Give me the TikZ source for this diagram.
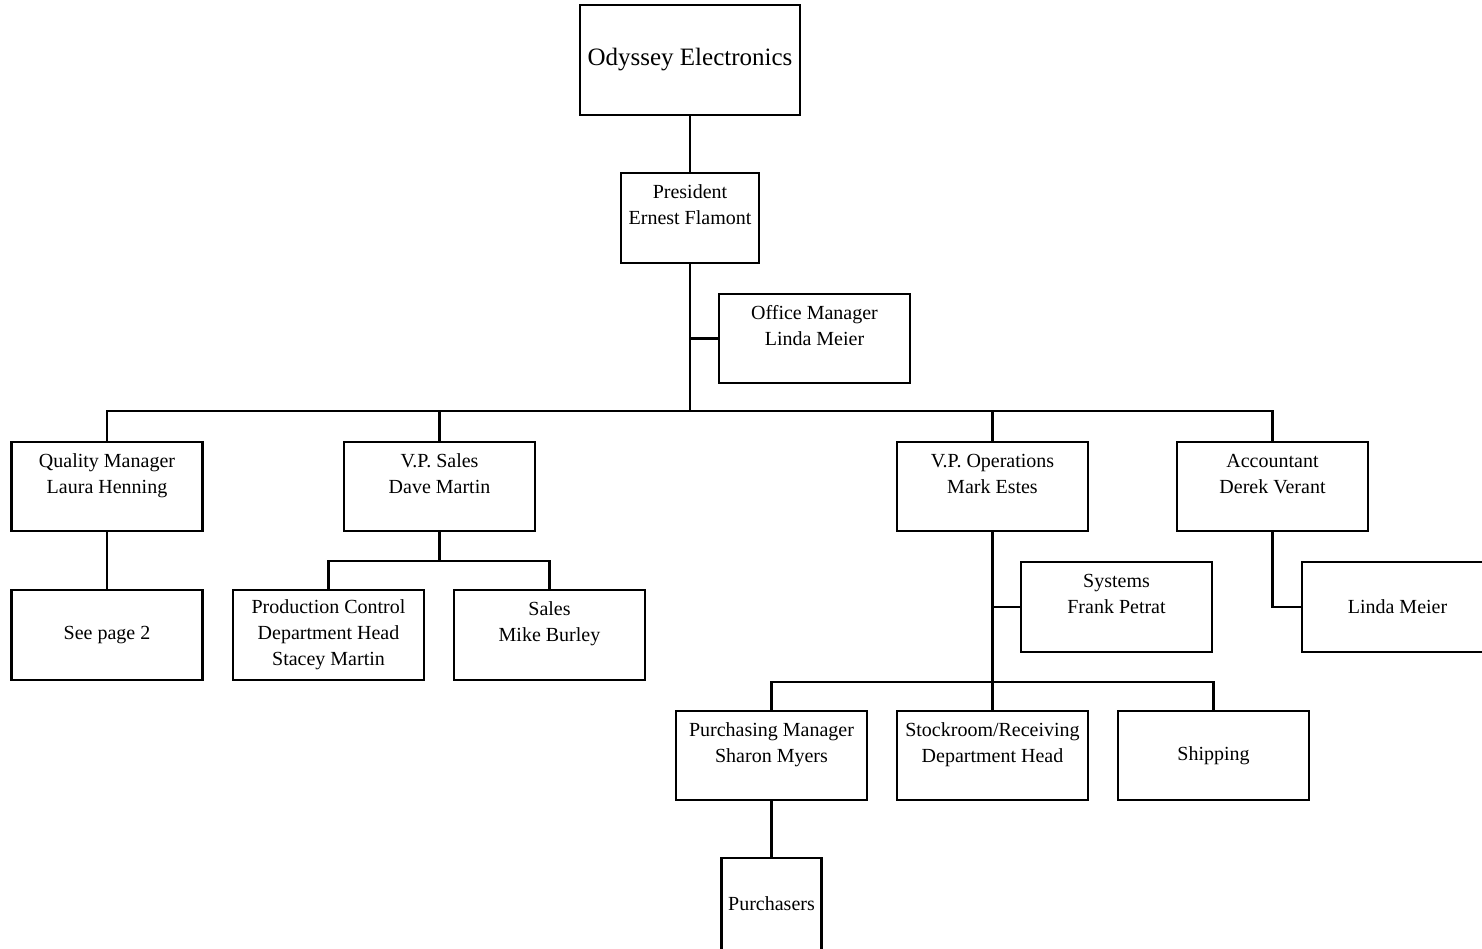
\documentclass[tikz,border=0pt]{standalone}
\usepackage{fontspec}
\setmainfont{Liberation Serif}
\usepackage{tikz}
\usetikzlibrary{calc, positioning}

\begin{document}
\begin{tikzpicture}[x=1pt, y=-1pt, line width=2.2pt, line cap=rect,
	box/.style={draw, align=center, inner sep=2pt, minimum width=191pt, minimum height=89pt, font=\fontsize{20}{26}\selectfont}]
\useasboundingbox (0,0) rectangle (1482,948);

% top of the chart
\node[box, minimum width=220pt, minimum height=110pt, font=\fontsize{25}{30}\selectfont] (odyssey) at (690,60) {Odyssey Electronics};
\node[box, minimum width=138pt, minimum height=90pt] (president) at (690,218) {President\\Ernest Flamont\\~};
\node[box] (office) at (814.5,338.5) {Office Manager\\Linda Meier\\~};

% second row
\node[box] (quality) at (107,486.5) {Quality Manager\\Laura Henning\\~};
\node[box] (vpsales) at (439.5,486.5) {V.P. Sales\\Dave Martin\\~};
\node[box] (vpops) at (992.5,486.5) {V.P. Operations\\Mark Estes\\~};
\node[box] (accountant) at (1272.5,486.5) {Accountant\\Derek Verant\\~};

% third row
\node[box, minimum height=90pt] (seepage) at (107,635) {See page 2};
\node[box, minimum height=90pt] (prodctrl) at (328.5,635) {Production Control\\Department Head\\Stacey Martin};
\node[box, minimum height=90pt] (salesbox) at (549.5,635) {Sales\\Mike Burley\\~};
\node[box, minimum height=90pt] (systems) at (1116.5,607) {Systems\\Frank Petrat\\~};
\node[box, minimum height=90pt] (linda) at (1397.5,607) {Linda Meier};

% operations
\node[box] (purchasing) at (771.5,755.5) {Purchasing Manager\\Sharon Myers\\~};
\node[box] (stockroom) at (992.5,755.5) {Stockroom/Receiving\\Department Head\\~};
\node[box] (shipping) at (1213.5,755.5) {Shipping};
\node[box, minimum width=100pt, minimum height=92pt] (purchasers) at (771.5,904) {Purchasers};

\coordinate (bus1) at (690,411);
\coordinate (bus2) at (439.5,561);
\coordinate (bus3) at (992.5,682);

\draw (odyssey.south) -- (president.north);
\draw (president.south) -- (bus1);
\draw (office.west) -- (office.west -| bus1);
\draw (quality.north |- bus1) -- (accountant.north |- bus1);
\foreach \n in {quality, vpsales, vpops, accountant}
	\draw (\n.north) -- (\n.north |- bus1);

\draw (quality.south) -- (seepage.north);
\draw (vpsales.south) -- (bus2);
\draw (prodctrl.north) |- (bus2) -| (salesbox.north);

\draw (vpops.south) -- (bus3);
\draw (systems.west) -- (systems.west -| bus3);
\draw (purchasing.north) |- (bus3) -| (shipping.north);
\draw (stockroom.north) -- (bus3);
\draw (purchasing.south) -- (purchasers.north);

\draw (accountant.south) |- (linda.west);

\end{tikzpicture}
\end{document}
